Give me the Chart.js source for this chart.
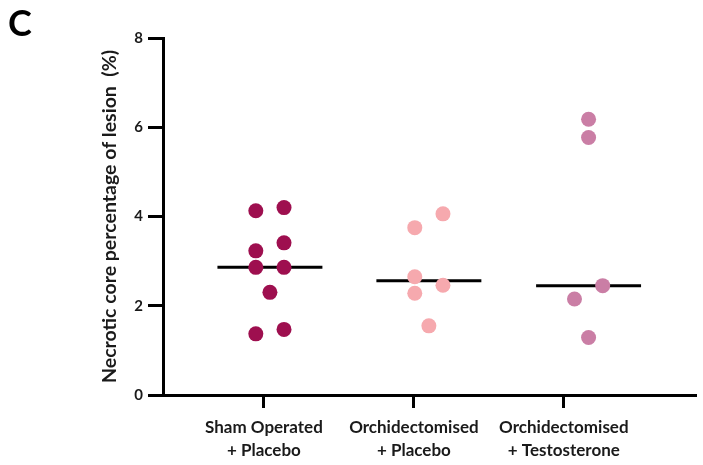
<!DOCTYPE html>
<html>
<head>
<meta charset="utf-8">
<script src="https://cdn.jsdelivr.net/npm/chart.js@4"></script>
<style>
  html, body { margin: 0; padding: 0; background: #fff; }
  #wrap { position: relative; width: 703px; height: 465px; }
  #panel { position: absolute; left: 8px; top: 4px; font: bold 36px Lato, sans-serif; color: #000; line-height: 1; }
</style>
</head>
<body>
<div id="wrap">
  <canvas id="c" width="703" height="465"></canvas>
  <div id="panel">C</div>
</div>
<script>
// ---- data ----
const categories = [
  ['Sham Operated', '+ Placebo'],
  ['Orchidectomised', '+ Placebo'],
  ['Orchidectomised', '+ Testosterone']
];
const tickPositions = [1, 2, 3];
const groupPositions = [1.04, 2.10, 3.165];

const shamValues = [4.13, 4.20, 3.23, 3.41, 2.86, 2.86, 2.30, 1.37, 1.47];
const shamJitter = [-0.094, 0.094, -0.094, 0.094, -0.094, 0.094, 0, -0.094, 0.094];

const orchPlaceboValues = [4.06, 3.75, 2.65, 2.46, 2.28, 1.55];
const orchPlaceboJitter = [0.094, -0.094, -0.094, 0.094, -0.094, 0];

const orchTestoValues = [6.18, 5.77, 2.45, 2.15, 1.29];
const orchTestoJitter = [0, 0, 0.094, -0.094, 0];

const medians = [2.86, 2.56, 2.45];

const yTicks = [0, 2, 4, 6, 8];

// ---- styles ----
const colors = ['#9E0F4F', '#F6A9AE', '#CA7EA5'];
const medianHalfWidth = 0.35;
const FONT = 'Lato, "Open Sans", sans-serif';

function pts(values, jitter, g) {
  return values.map((v, i) => ({ x: groupPositions[g] + jitter[i], y: v }));
}

const groups = [
  [shamValues, shamJitter],
  [orchPlaceboValues, orchPlaceboJitter],
  [orchTestoValues, orchTestoJitter]
];

const datasets = [];
groups.forEach(([vals, jit], g) => {
  datasets.push({
    type: 'scatter',
    data: pts(vals, jit, g),
    backgroundColor: colors[g],
    borderWidth: 0,
    pointRadius: 7.5,
    pointHoverRadius: 7.5,
    order: 1
  });
});
medians.forEach((m, g) => {
  datasets.push({
    type: 'line',
    data: [{ x: groupPositions[g] - medianHalfWidth, y: m }, { x: groupPositions[g] + medianHalfWidth, y: m }],
    borderColor: '#000',
    borderWidth: 3,
    pointRadius: 0,
    fill: false,
    order: 2
  });
});

new Chart(document.getElementById('c'), {
  type: 'scatter',
  data: { datasets },
  options: {
    responsive: false,
    animation: false,
    layout: { padding: { top: 38, right: 2, left: 0, bottom: 0 } },
    plugins: { legend: { display: false }, tooltip: { enabled: false } },
    scales: {
      x: {
        type: 'linear',
        min: 0.327,
        max: 3.878,
        afterBuildTicks: s => { s.ticks = tickPositions.map(v => ({ value: v })); },
        afterFit: s => { s.height = 70; },
        border: { color: '#000', width: 3 },
        grid: { drawOnChartArea: false, drawTicks: true, tickLength: 13, color: '#000', lineWidth: 3 },
        ticks: {
          autoSkip: false,
          maxRotation: 0,
          padding: 8,
          color: '#1a1a1a',
          font: { family: FONT, weight: 'bold', size: 17, lineHeight: 1.35 },
          callback: v => { const i = tickPositions.indexOf(v); return i >= 0 ? categories[i] : ''; }
        }
      },
      y: {
        min: 0,
        max: 8,
        afterBuildTicks: s => { s.ticks = yTicks.map(v => ({ value: v })); },
        afterFit: s => { s.width = 163; },
        border: { color: '#000', width: 3 },
        grid: { drawOnChartArea: false, drawTicks: true, tickLength: 15, color: '#000', lineWidth: 3 },
        ticks: {
          padding: 5,
          color: '#1a1a1a',
          font: { family: FONT, weight: 'bold', size: 15 }
        },
        title: {
          display: true,
          text: 'Necrotic core percentage of lesion  (%)',
          color: '#1a1a1a',
          font: { family: FONT, weight: 'bold', size: 19.5, lineHeight: 1.2 },
          padding: { top: 98, bottom: 0 }
        }
      }
    }
  }
});
</script>
</body>
</html>
